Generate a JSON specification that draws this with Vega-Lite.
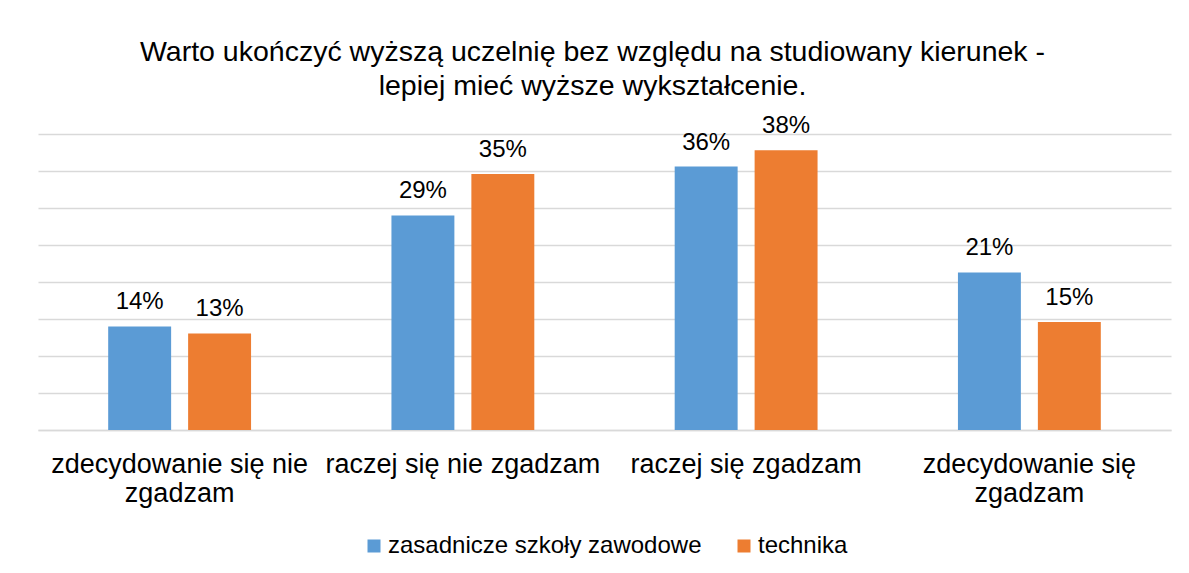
{
  "$schema": "https://vega.github.io/schema/vega-lite/v6.json",
  "autosize": {"type": "none"},
  "width": 1133,
  "height": 296,
  "padding": {"left": 38, "top": 134, "right": 18, "bottom": 143},
  "background": "white",
  "config": {
    "view": {"stroke": null},
    "font": "Liberation Sans",
    "legend": {"layout": {"bottom": {"anchor": "middle"}}}
  },
  "title": {
    "text": ["Warto ukończyć wyższą uczelnię bez względu na studiowany kierunek -", "lepiej mieć wyższe wykształcenie."],
    "font": "Liberation Sans",
    "fontSize": 28.5,
    "fontWeight": "normal",
    "color": "#000000",
    "lineHeight": 34,
    "baseline": "bottom",
    "anchor": "middle",
    "frame": "group",
    "offset": 13,
    "dx": -12,
    "dy": 28
  },
  "data": {
    "values": [
      {"odpowiedz": "zdecydowanie się nie zgadzam", "typ": "zasadnicze szkoły zawodowe", "procent": 0.140},
      {"odpowiedz": "zdecydowanie się nie zgadzam", "typ": "technika", "procent": 0.1305},
      {"odpowiedz": "raczej się nie zgadzam", "typ": "zasadnicze szkoły zawodowe", "procent": 0.290},
      {"odpowiedz": "raczej się nie zgadzam", "typ": "technika", "procent": 0.346},
      {"odpowiedz": "raczej się zgadzam", "typ": "zasadnicze szkoły zawodowe", "procent": 0.356},
      {"odpowiedz": "raczej się zgadzam", "typ": "technika", "procent": 0.378},
      {"odpowiedz": "zdecydowanie się zgadzam", "typ": "zasadnicze szkoły zawodowe", "procent": 0.213},
      {"odpowiedz": "zdecydowanie się zgadzam", "typ": "technika", "procent": 0.146}
    ]
  },
  "encoding": {
    "x": {
      "field": "odpowiedz",
      "type": "nominal",
      "sort": ["zdecydowanie się nie zgadzam", "raczej się nie zgadzam", "raczej się zgadzam", "zdecydowanie się zgadzam"],
      "scale": {"paddingInner": 0.4956, "paddingOuter": 0.2478},
      "axis": {
        "title": null,
        "labelAngle": 0,
        "labelFont": "Liberation Sans",
        "labelFontSize": 27,
        "labelColor": "#000000",
        "labelLineHeight": 29,
        "labelPadding": 42,
        "labelBaseline": "alphabetic",
        "labelLimit": 400,
        "ticks": false,
        "domainColor": "#D9D9D9",
        "domainWidth": 1.5,
        "labelExpr": "datum.value == 'zdecydowanie się nie zgadzam' ? ['zdecydowanie się nie', 'zgadzam'] : datum.value == 'zdecydowanie się zgadzam' ? ['zdecydowanie się', 'zgadzam'] : datum.value"
      }
    },
    "xOffset": {
      "field": "typ",
      "type": "nominal",
      "sort": ["zasadnicze szkoły zawodowe", "technika"],
      "scale": {"paddingInner": 0.2125, "paddingOuter": 0}
    },
    "y": {
      "field": "procent",
      "type": "quantitative",
      "scale": {"domain": [0, 0.4], "nice": false},
      "axis": {
        "title": null,
        "labels": false,
        "ticks": false,
        "domain": false,
        "values": [0, 0.05, 0.1, 0.15, 0.2, 0.25, 0.3, 0.35, 0.4],
        "gridColor": "#D9D9D9",
        "gridWidth": 1.5
      }
    }
  },
  "layer": [
    {
      "mark": {"type": "bar"},
      "encoding": {
        "color": {
          "field": "typ",
          "type": "nominal",
          "sort": ["zasadnicze szkoły zawodowe", "technika"],
          "scale": {"domain": ["zasadnicze szkoły zawodowe", "technika"], "range": ["#5B9BD5", "#ED7D31"]},
          "legend": {
            "title": null,
            "orient": "bottom",
            "direction": "horizontal",
            "symbolType": "square",
            "symbolSize": 169,
            "symbolStrokeWidth": 0,
            "labelFont": "Liberation Sans",
            "labelFontSize": 24,
            "labelColor": "#000000",
            "labelLimit": 500,
            "columnPadding": 30,
            "labelOffset": 2,
            "offset": 28
          }
        }
      }
    },
    {
      "mark": {"type": "text", "baseline": "alphabetic", "dy": -17, "font": "Liberation Sans", "fontSize": 24, "color": "#000000"},
      "encoding": {
        "text": {"field": "procent", "type": "quantitative", "format": ".0%"}
      }
    }
  ]
}
